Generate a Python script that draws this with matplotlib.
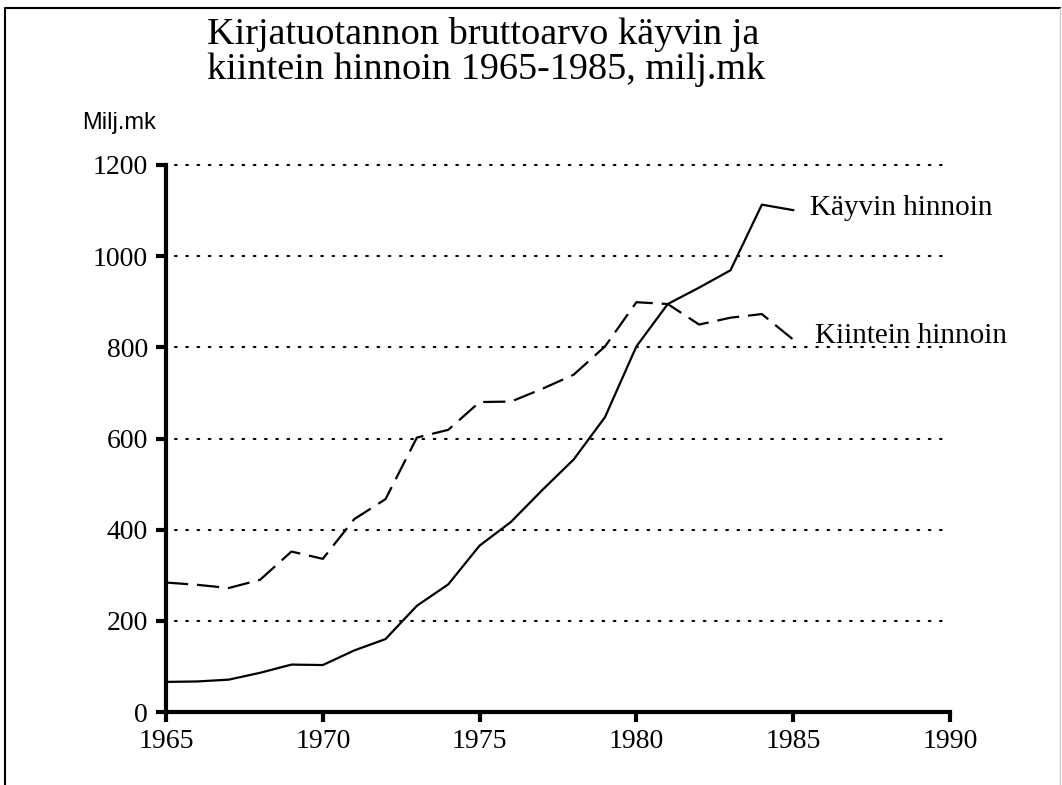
import matplotlib
matplotlib.use("Agg")
import matplotlib.pyplot as plt
from matplotlib.lines import Line2D
from matplotlib import font_manager

years = list(range(1965, 1986))
kayvin = [66, 67, 71, 86, 104, 103, 135, 160, 233, 280, 365,
          417, 487, 554, 647, 802, 895, 931, 969, 1113, 1101]
kiintein = [284, 279, 272, 290, 352, 336, 423, 467, 602, 619, 680,
            681, 709, 740, 802, 899, 895, 850, 865, 873, 817]
xticks = [1965, 1970, 1975, 1980, 1985, 1990]
yticks = [0, 200, 400, 600, 800, 1000, 1200]
title = "Kirjatuotannon bruttoarvo käyvin ja\nkiintein hinnoin 1965-1985, milj.mk"
ylabel = "Milj.mk"
label_k = "Käyvin hinnoin"
label_ki = "Kiintein hinnoin"

serif = ["Liberation Serif", "DejaVu Serif"]
names = {f.name for f in font_manager.fontManager.ttflist}
if "Liberation Sans Narrow" in names:
    narrow = ["Liberation Sans Narrow", "DejaVu Sans"]
    nsize = 19
else:
    narrow = ["Liberation Sans", "DejaVu Sans"]
    nsize = 17

fig = plt.figure(figsize=(10.62, 7.85), dpi=100)
ax = fig.add_axes([166/1062, 1-712/785, (950-166)/1062, (712-165)/785])
ax.set_xlim(1965, 1990)
ax.set_ylim(0, 1200)

# dotted gridlines
for yv in yticks[1:]:
    ax.plot([1965.3, 1990], [yv, yv], color="black", lw=1.5,
            linestyle=(0, (0.8, 4.6)), solid_capstyle="round",
            dash_capstyle="round", clip_on=False, zorder=1)

ax.plot(years, kayvin, color="black", lw=1.6, zorder=3)
ax.plot(years, kiintein, color="black", lw=1.6, linestyle=(0, (10, 4)), zorder=3)

for s in ["top", "right"]:
    ax.spines[s].set_visible(False)
for s in ["left", "bottom"]:
    ax.spines[s].set_linewidth(3)
ax.set_xticks(xticks)
ax.set_yticks(yticks)
ax.tick_params(axis="both", direction="out", length=7, width=3, labelsize=20)
ax.tick_params(axis="y", pad=6)
ax.tick_params(axis="x", pad=5)
for lab in ax.get_xticklabels() + ax.get_yticklabels():
    lab.set_fontfamily(serif)

fig.text(207/1062, 1-52/785, title, ha="left", va="center", fontsize=27.5,
         family=serif, linespacing=1.0, multialignment="left")
fig.text(82/1062, 1-123/785, ylabel, ha="left", va="center", fontsize=nsize,
         family=narrow)

ax.text(1985.54, 1105, label_k, ha="left", va="center", fontsize=21, family=serif)
ax.text(1985.7, 825, label_ki, ha="left", va="center", fontsize=21, family=serif)

# figure border (left, top, right)
fig.add_artist(Line2D([5/1062, 5/1062, 1060/1062],
                      [0, 1-8/785, 1-8/785], transform=fig.transFigure,
                      color="black", lw=1.5))
fig.add_artist(Line2D([1060/1062, 1060/1062], [1-8/785, 0],
                      transform=fig.transFigure, color="#cccccc", lw=1.0))

fig.savefig("out.png", dpi=100)
